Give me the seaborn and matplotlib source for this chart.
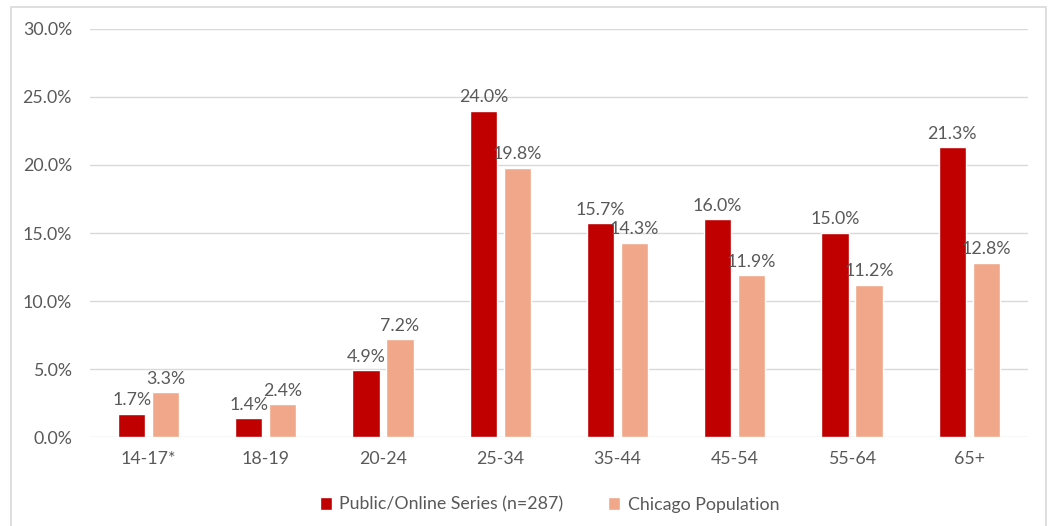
import numpy as np
import pandas as pd
import matplotlib
matplotlib.use("Agg")
import matplotlib.pyplot as plt
import seaborn as sns
from matplotlib.patches import Rectangle
from matplotlib.ticker import PercentFormatter

age_groups = ["14-17*", "18-19", "20-24", "25-34", "35-44", "45-54", "55-64", "65+"]
public_online = [1.7, 1.4, 4.9, 24.0, 15.7, 16.0, 15.0, 21.3]
chicago_pop = [3.3, 2.4, 7.2, 19.8, 14.3, 11.9, 11.2, 12.8]
series_names = ["Public/Online Series (n=287)", "Chicago Population"]

df = pd.DataFrame({
    "age": age_groups * 2,
    "pct": public_online + chicago_pop,
    "series": [series_names[0]] * len(age_groups) + [series_names[1]] * len(age_groups),
})

sns.set_style("white")
plt.rcParams["font.family"] = ["Lato", "DejaVu Sans"]
text_color = "#595959"
fs = 12.8

fig = plt.figure(figsize=(10.53, 5.26), dpi=100)
ax = fig.add_axes([0.0855, 0.169, 0.8905, 0.776])

sns.barplot(data=df, x="age", y="pct", hue="series",
            palette=["#C00000", "#F1A78A"], saturation=1, width=0.58, gap=0.2,
            ax=ax, legend=True)

for cont in ax.containers:
    ax.bar_label(cont, fmt="%.1f%%", padding=4, fontsize=fs, color=text_color)

ax.set_ylim(0, 30)
ax.set_yticks(np.arange(0, 31, 5))
ax.yaxis.set_major_formatter(PercentFormatter(decimals=1))
ax.set_xlim(-0.5, len(age_groups) - 0.5)
ax.grid(axis="y", color="#D9D9D9", linewidth=1)
ax.set_axisbelow(True)
for s in ax.spines.values():
    s.set_visible(False)
ax.tick_params(axis="both", length=0, labelsize=fs, labelcolor=text_color)
ax.tick_params(axis="y", pad=13)
ax.tick_params(axis="x", pad=10)
ax.set_xlabel("")
ax.set_ylabel("")

ax.legend(loc="center", bbox_to_anchor=(0.49, -0.165), ncol=2, frameon=False,
          fontsize=fs, labelcolor=text_color, handlelength=0.7, handleheight=0.7,
          handletextpad=0.4, columnspacing=2.5)

fig.patches.append(Rectangle((11 / 1053, -0.05), 1035 / 1053, 1 - 7 / 526 + 0.05,
                             transform=fig.transFigure, fill=False,
                             edgecolor="#D9D9D9", linewidth=1.2))

fig.savefig("out.png", dpi=100)
